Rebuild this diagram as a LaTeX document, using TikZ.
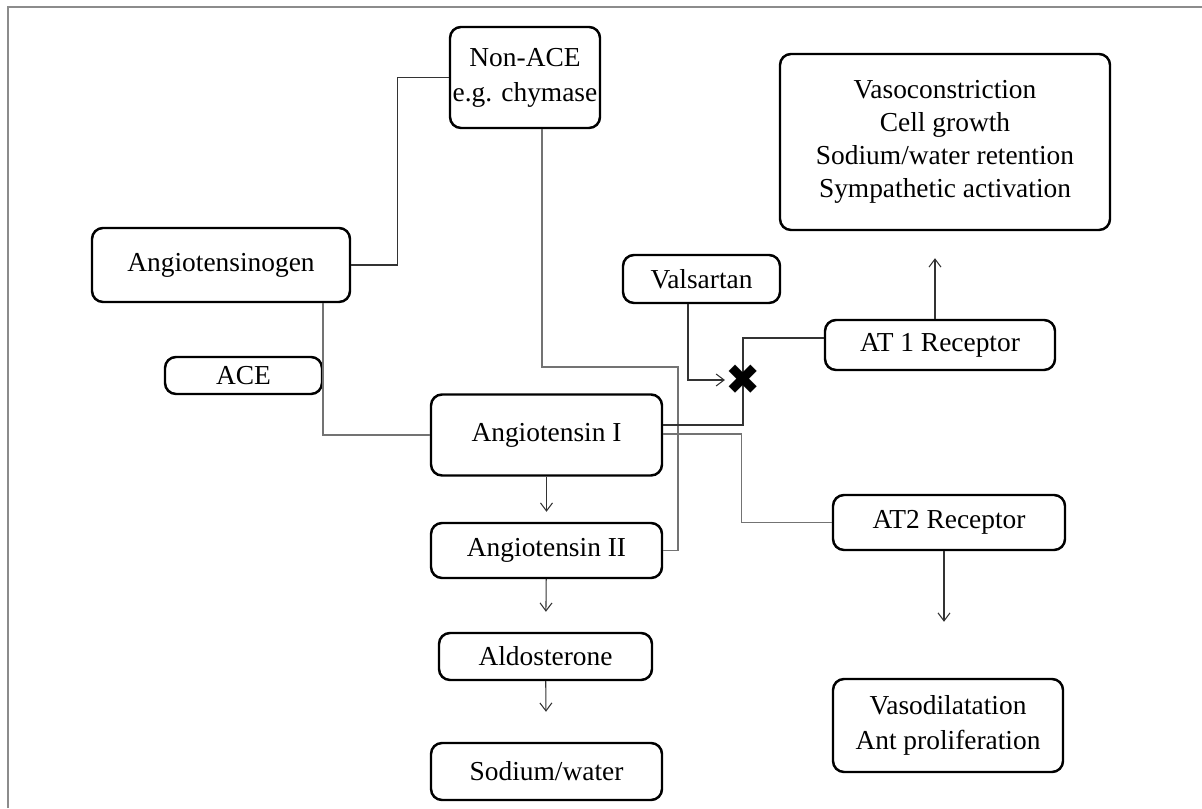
\documentclass[tikz,border=0pt]{standalone}
\usepackage{fontspec}
\setmainfont{Liberation Serif}
\newfontfamily\symfont{DejaVu Sans}
\usetikzlibrary{arrows.meta}

\begin{document}
\begin{tikzpicture}[
  box/.style={draw, line width=1.4pt, rounded corners=0.22cm, align=center, inner sep=0pt,
    font=\fontsize{15.6}{18.8}\selectfont},
  link/.style={black!80, line width=0.6pt},
  faint/.style={black!55, line width=0.6pt},
  arr/.style={link, -{Straight Barb[length=1.6mm,width=2.4mm]}}
]
\useasboundingbox (0,0) rectangle (24.04,16.16);
\draw[black!45, line width=1.1pt] (0.16,0) -- (0.16,16.02) -- (24.04,16.02);

\node[box, minimum width=3cm, minimum height=2.02cm] (nonace) at (10.5,14.61) {Non-ACE\\[1pt]e.g. chymase};
\node[box, minimum width=5.16cm, minimum height=1.48cm] (angen) at (4.42,10.86) {Angiotensinogen};
\node[box, minimum width=3.14cm, minimum height=0.74cm] (ace) at (4.87,8.65) {ACE};
\node[box, minimum width=4.62cm, minimum height=1.62cm] (ang1) at (10.93,7.46) {Angiotensin I};
\node[box, minimum width=4.62cm, minimum height=1.1cm] (ang2) at (10.93,5.15) {Angiotensin II};
\node[box, minimum width=4.26cm, minimum height=0.94cm] (aldo) at (10.91,3.03) {Aldosterone};
\node[box, minimum width=4.62cm, minimum height=1.14cm] (sodium) at (10.93,0.73) {Sodium/water};
\node[box, minimum width=6.6cm, minimum height=3.52cm] (vaso) at (18.9,13.32)
  {Vasoconstriction\\Cell growth\\Sodium/water retention\\Sympathetic activation};
\node[box, minimum width=3.14cm, minimum height=0.96cm] (vals) at (14.03,10.58) {Valsartan};
\node[box, minimum width=4.6cm, minimum height=1cm] (at1) at (18.8,9.26) {AT 1 Receptor};
\node[box, minimum width=4.64cm, minimum height=1.1cm] (at2) at (18.98,5.71) {AT2 Receptor};
\node[box, minimum width=4.6cm, minimum height=1.86cm] (vasod) at (18.96,1.65)
  {Vasodilatation\\[1pt]Ant proliferation};

% pathways
\coordinate (bend) at (13.56,8.82);
\coordinate (cross) at (14.86,8.56);
\draw[link] (angen.east) -| ([xshift=-1.02cm]nonace.west) -- (nonace.west);
\draw[faint] ([xshift=0.34cm]nonace.south) |- (bend) |- (ang2.east);
\draw[faint] ([xshift=2.04cm]angen.south) |- (ang1.west);
\draw[link] ([yshift=0.2cm]ang1.east) -| (cross) |- ([yshift=0.14cm]at1.west);
\draw[faint] ([yshift=0.02cm]ang1.east) -| ([xshift=-1.8cm]at2.west) -- (at2.west);
\node[inner sep=0pt, font=\symfont\fontsize{24}{24}\selectfont] (block) at (cross) {✖};
\draw[arr] ([xshift=-0.27cm]vals.south) |- (block.west);

\draw[arr, shorten >=0.2cm] (ang1) -- (ang2);
\draw[arr, shorten >=0.4cm] (ang2) -- (aldo);
\draw[arr, shorten >=0.6cm] (aldo) -- (sodium);
\draw[arr, shorten >=0.54cm] ([xshift=-0.1cm]at1.north) -- ([xshift=-0.1cm]at1.north |- vaso.south);
\draw[arr, shorten >=1.12cm] ([xshift=-0.1cm]at2.south) -- ([xshift=-0.1cm]at2.south |- vasod.north);
\end{tikzpicture}
\end{document}
